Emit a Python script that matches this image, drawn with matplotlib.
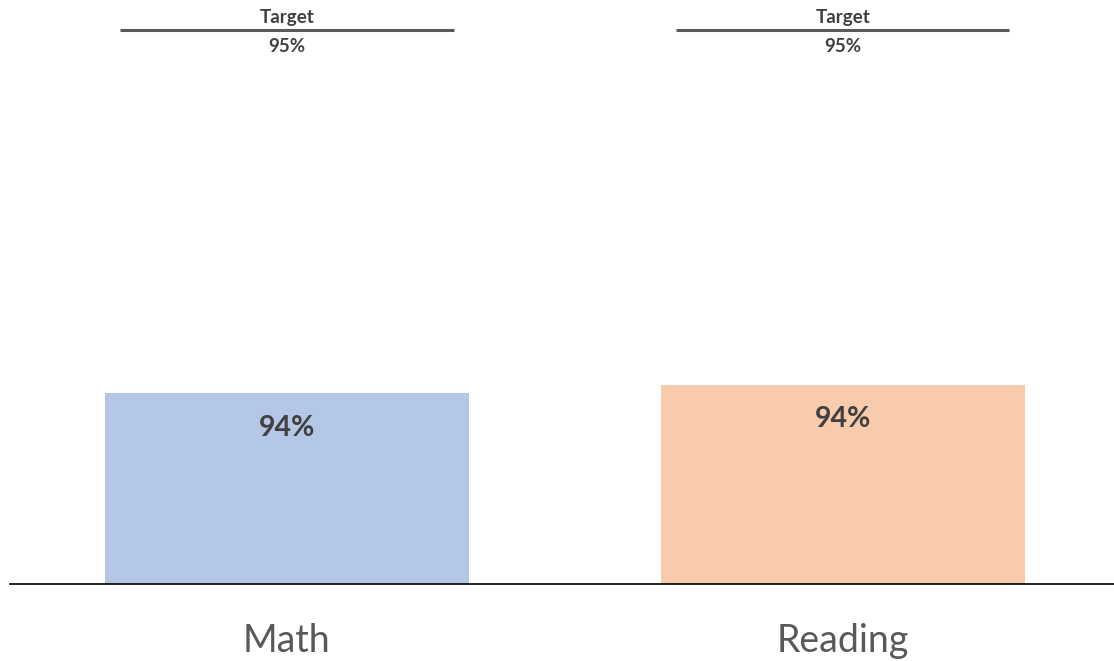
import matplotlib.pyplot as plt
import numpy as np

categories = ['Math', 'Reading']
values = [93.69, 93.72]
value_labels = ['94%', '94%']
target = 95
target_labels = ['95%', '95%']
colors = ['#B4C7E7', '#F8CBAD']

plt.rcParams['font.family'] = ['Lato', 'DejaVu Sans']

fig = plt.figure(figsize=(11.14, 6.61), dpi=100)
ax = fig.add_axes([10 / 1114, 77 / 661, 1104 / 1114, (584 - 30) / 661])

x = np.arange(len(categories))
ax.bar(x, [v - 93 for v in values], bottom=93, width=0.655, color=colors)
ax.set_ylim(93, 95)
ax.set_xlim(-0.498, 1.488)

for xi, v, lab in zip(x, values, value_labels):
    ax.annotate(lab, (xi, v), xytext=(0, -25), textcoords='offset points',
                ha='center', va='center', fontsize=20.5, fontweight='bold', color='#404040')

for xi, lab in zip(x, target_labels):
    ax.hlines(target, xi - 0.3, xi + 0.3, color='#595959', linewidth=2.2, clip_on=False)
    ax.annotate('Target', (xi, target), xytext=(0, 9), textcoords='offset points',
                ha='center', va='center', fontsize=13.5, fontweight='bold', color='#404040',
                annotation_clip=False)
    ax.annotate(lab, (xi, target), xytext=(0, -12), textcoords='offset points',
                ha='center', va='center', fontsize=13.5, fontweight='bold', color='#404040',
                annotation_clip=False)

ax.set_xticks(x)
ax.set_xticklabels(categories, fontsize=27, color='#595959')
ax.tick_params(axis='x', length=0, pad=28)
ax.set_yticks([])
for s in ['top', 'right', 'left']:
    ax.spines[s].set_visible(False)
ax.spines['bottom'].set_linewidth(1.2)
ax.spines['bottom'].set_color('black')

fig.savefig('out.png', dpi=100)
